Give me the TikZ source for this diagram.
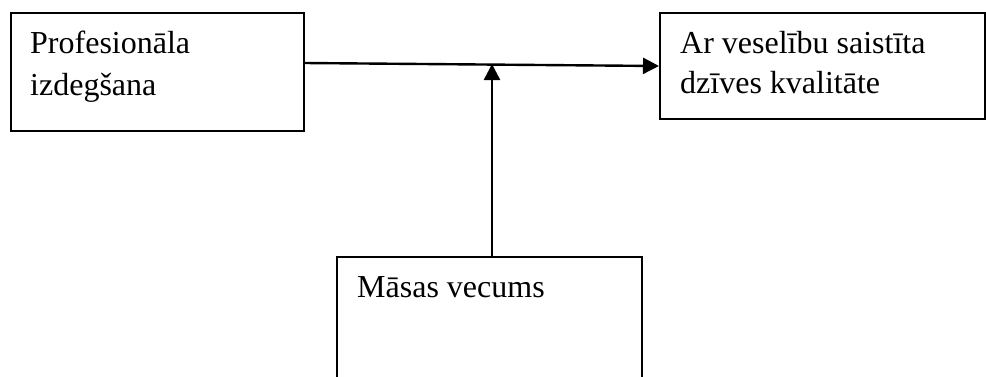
\documentclass[tikz,border=0pt]{standalone}
\usepackage{fontspec}
\setmainfont{Liberation Serif}
\usetikzlibrary{arrows.meta}
\begin{document}
\begin{tikzpicture}[x=1pt,y=-1pt,
  box/.style={draw=black,line width=2pt,rectangle,inner sep=0pt,anchor=north west},
  lbl/.style={anchor=base west,inner sep=0pt,font=\fontsize{32pt}{42pt}\selectfont,align=left},
  conn/.style={line width=2.4pt,-{Triangle[length=16pt,width=16pt]}}]
\clip (0,0) rectangle (986,376);
\fill[white] (0,0) rectangle (986,376);
\node[box,minimum width=293pt,minimum height=118pt] (L) at (10,12) {};
\node[box,minimum width=325pt,minimum height=106pt] (R) at (659,12) {};
\node[box,minimum width=305pt,minimum height=140pt] (B) at (336,256) {};
\node[lbl] (Lt1) at (30,53) {Profesionāla};
\node[lbl] (Lt2) at (30,95) {izdegšana};
\node[lbl] (Rt1) at (680,53) {Ar veselību saistīta};
\node[lbl] (Rt2) at (680,93) {dzīves kvalitāte};
\node[lbl] (Bt) at (357,297) {Māsas vecums};
\coordinate (M) at (492,64);
\draw[conn] ([yshift=9pt]L.east) -- (R.west);
\draw[conn] (B.north -| M) -- (M);
\end{tikzpicture}
\end{document}
